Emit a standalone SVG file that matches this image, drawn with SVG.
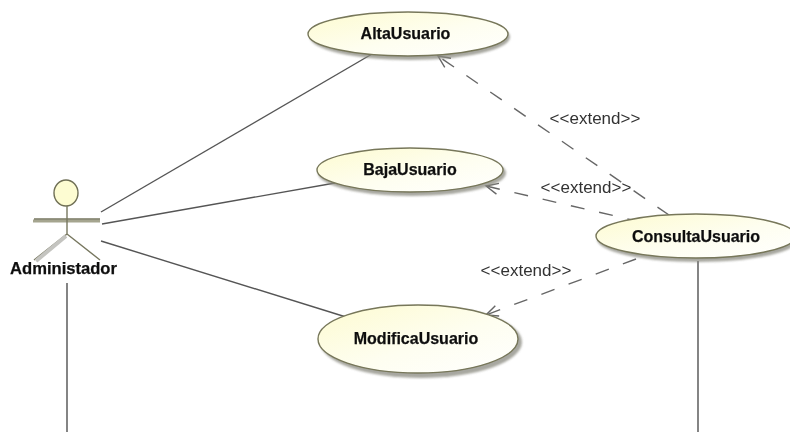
<svg xmlns="http://www.w3.org/2000/svg" width="790" height="432" viewBox="0 0 790 432">
<defs>
<linearGradient id="g" x1="0" y1="0" x2="1" y2="1"><stop offset="0" stop-color="#fdfbd0"/><stop offset="0.55" stop-color="#fefef0"/><stop offset="1" stop-color="#ffffff"/></linearGradient>
<filter id="b" x="-10%" y="-10%" width="120%" height="120%"><feGaussianBlur stdDeviation="0.45"/></filter>
<filter id="s" x="-10%" y="-20%" width="120%" height="140%"><feGaussianBlur stdDeviation="1.2"/></filter>
<marker id="a" markerWidth="18" markerHeight="18" refX="15" refY="9" orient="auto" markerUnits="userSpaceOnUse"><path d="M3 3.5L15 9L3 14.5" fill="none" stroke="#666" stroke-width="1.4"/></marker>
</defs>
<style>
text{font-family:"Liberation Sans",Arial,sans-serif;fill:#111}
.n{font-size:16px;font-weight:bold;text-anchor:middle;stroke:#111;stroke-width:.25px}
.l{font-size:17px;fill:#333;text-anchor:middle}
.u{fill:url(#g);stroke:#77775a;stroke-width:1.4}
.sh{fill:#8a8a80;opacity:.75;filter:url(#s)}
.c{stroke:#555;stroke-width:1.4;fill:none}
.d{stroke:#666;stroke-width:1.4;fill:none;stroke-dasharray:14 15}
.v{stroke:#222;stroke-width:1.1;fill:none}
</style>
<rect width="790" height="432" fill="#fff"/>
<g id="connectors" filter="url(#b)">
<path class="c" d="M101 212L372 54"/>
<path class="c" d="M102 224L335 183"/>
<path class="c" d="M101 241L346 317"/>
<path class="d" d="M669 215L438 56" marker-end="url(#a)"/>
<path class="d" d="M641 222L486 186" marker-end="url(#a)"/>
<path class="d" d="M636 259L486 315" marker-end="url(#a)"/>
<path class="v" d="M67 283V432"/>
<path class="v" d="M698 261V432"/>
</g>
<g id="AltaUsuario" filter="url(#b)"><ellipse class="sh" cx="410" cy="37" rx="100" ry="23"/><ellipse class="u" cx="408" cy="34" rx="100" ry="22"/><text class="n" x="405.5" y="39">AltaUsuario</text></g>
<g id="BajaUsuario" filter="url(#b)"><ellipse class="sh" cx="412" cy="173" rx="94" ry="23"/><ellipse class="u" cx="410" cy="170" rx="93" ry="22"/><text class="n" x="410" y="175">BajaUsuario</text></g>
<g id="ModificaUsuario" filter="url(#b)"><ellipse class="sh" cx="421" cy="342" rx="101" ry="36"/><ellipse class="u" cx="418" cy="339" rx="100" ry="34"/><text class="n" x="416" y="344">ModificaUsuario</text></g>
<g id="ConsultaUsuario" filter="url(#b)"><ellipse class="sh" cx="698" cy="239" rx="101" ry="23"/><ellipse class="u" cx="696" cy="236" rx="100" ry="22"/><text class="n" x="696" y="242">ConsultaUsuario</text></g>
<g id="Administador" filter="url(#b)">
<ellipse cx="66" cy="193" rx="12" ry="13" fill="#fdfcd2" stroke="#6f6f55" stroke-width="1.4"/>
<path d="M33 221H100" stroke="#a5a58f" stroke-width="3" fill="none"/>
<path d="M34 219H100M67 206V234L34 260M67 234L100 260" stroke="#77775f" stroke-width="1.4" fill="none"/>
<path d="M66 236L36 261" stroke="#c4c4c0" stroke-width="4" fill="none"/>
<text class="n" x="63.5" y="274" style="font-size:16.6px">Administador</text>
</g>
<g id="labels" filter="url(#b)">
<text class="l" x="595" y="124">&lt;&lt;extend&gt;&gt;</text>
<text class="l" x="586" y="193">&lt;&lt;extend&gt;&gt;</text>
<text class="l" x="526" y="276">&lt;&lt;extend&gt;&gt;</text>
</g>
</svg>
